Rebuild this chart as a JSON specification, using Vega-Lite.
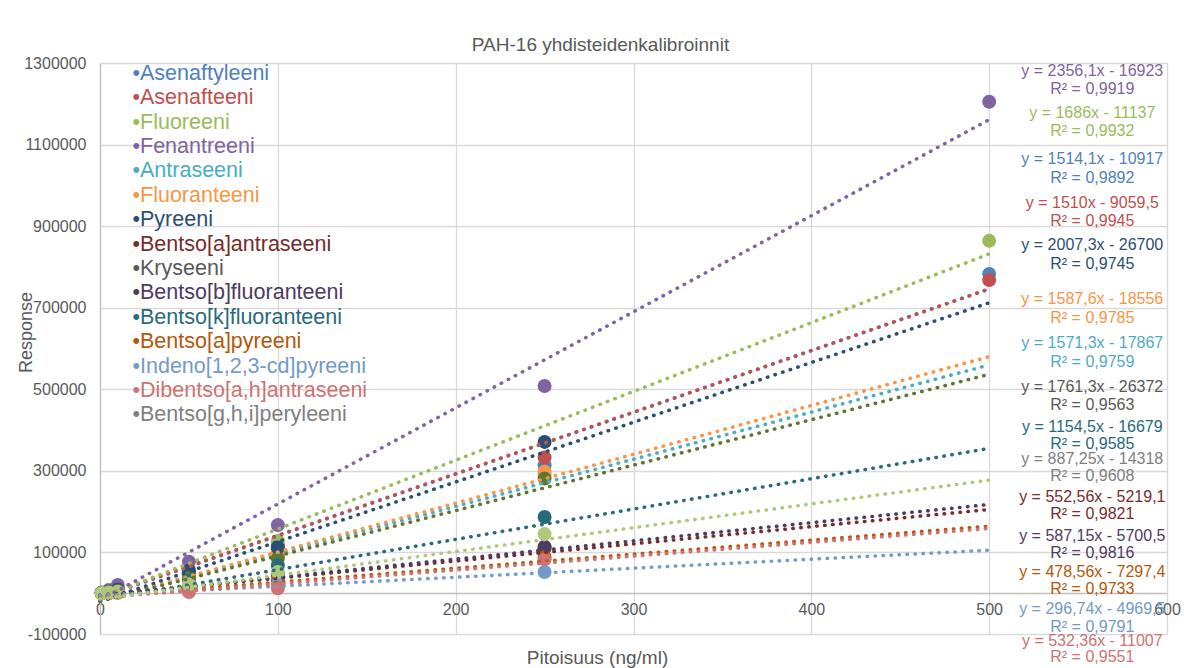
{
  "$schema": "https://vega.github.io/schema/vega-lite/v6.json",
  "autosize": {"type": "none"},
  "padding": {"left": 100, "top": 63, "right": 17, "bottom": 34},
  "width": 1067,
  "height": 571,
  "background": "white",
  "title": {"text": "PAH-16 yhdisteidenkalibroinnit", "font": "Liberation Sans", "fontSize": 19, "fontWeight": "normal", "color": "#595959", "anchor": "middle", "dx": -33, "dy": 19, "offset": 10, "baseline": "middle"},
  "config": {
    "view": {"stroke": null},
    "font": "Liberation Sans",
    "axis": {"labelFont": "Liberation Sans", "titleFont": "Liberation Sans", "labelColor": "#595959", "titleColor": "#595959", "titleFontWeight": "normal", "ticks": false, "gridColor": "#D9D9D9", "gridWidth": 1.3, "domainColor": "#BFBFBF", "domainWidth": 1.3}
  },
  "datasets": {
    "pts": [
      {"series": "Asenaftyleeni", "conc": 1, "resp": 500},
      {"series": "Asenaftyleeni", "conc": 5, "resp": 3000},
      {"series": "Asenaftyleeni", "conc": 10, "resp": 8000},
      {"series": "Asenaftyleeni", "conc": 50, "resp": 45000},
      {"series": "Asenaftyleeni", "conc": 100, "resp": 108000},
      {"series": "Asenaftyleeni", "conc": 250, "resp": 314000},
      {"series": "Asenaftyleeni", "conc": 500, "resp": 783000},
      {"series": "Asenafteeni", "conc": 1, "resp": 600},
      {"series": "Asenafteeni", "conc": 5, "resp": 3500},
      {"series": "Asenafteeni", "conc": 10, "resp": 9000},
      {"series": "Asenafteeni", "conc": 50, "resp": 50000},
      {"series": "Asenafteeni", "conc": 100, "resp": 118000},
      {"series": "Asenafteeni", "conc": 250, "resp": 333000},
      {"series": "Asenafteeni", "conc": 500, "resp": 768000},
      {"series": "Fluoreeni", "conc": 1, "resp": 1000},
      {"series": "Fluoreeni", "conc": 5, "resp": 5000},
      {"series": "Fluoreeni", "conc": 10, "resp": 12000},
      {"series": "Fluoreeni", "conc": 50, "resp": 58000},
      {"series": "Fluoreeni", "conc": 100, "resp": 128000},
      {"series": "Fluoreeni", "conc": 500, "resp": 864000},
      {"series": "Fenantreeni", "conc": 1, "resp": 1500},
      {"series": "Fenantreeni", "conc": 5, "resp": 8000},
      {"series": "Fenantreeni", "conc": 10, "resp": 20000},
      {"series": "Fenantreeni", "conc": 50, "resp": 77000},
      {"series": "Fenantreeni", "conc": 100, "resp": 167000},
      {"series": "Fenantreeni", "conc": 250, "resp": 508000},
      {"series": "Fenantreeni", "conc": 500, "resp": 1205000},
      {"series": "Antraseeni", "conc": 1, "resp": 400},
      {"series": "Antraseeni", "conc": 5, "resp": 2500},
      {"series": "Antraseeni", "conc": 10, "resp": 7000},
      {"series": "Antraseeni", "conc": 50, "resp": 40000},
      {"series": "Antraseeni", "conc": 100, "resp": 95000},
      {"series": "Antraseeni", "conc": 250, "resp": 290000},
      {"series": "Fluoranteeni", "conc": 1, "resp": 400},
      {"series": "Fluoranteeni", "conc": 5, "resp": 3000},
      {"series": "Fluoranteeni", "conc": 10, "resp": 7500},
      {"series": "Fluoranteeni", "conc": 50, "resp": 43000},
      {"series": "Fluoranteeni", "conc": 100, "resp": 100000},
      {"series": "Fluoranteeni", "conc": 250, "resp": 298000},
      {"series": "Pyreeni", "conc": 1, "resp": 500},
      {"series": "Pyreeni", "conc": 5, "resp": 3500},
      {"series": "Pyreeni", "conc": 10, "resp": 9000},
      {"series": "Pyreeni", "conc": 50, "resp": 55000},
      {"series": "Pyreeni", "conc": 100, "resp": 112000},
      {"series": "Pyreeni", "conc": 250, "resp": 371000},
      {"series": "Bentso[a]antraseeni", "conc": 1, "resp": 200},
      {"series": "Bentso[a]antraseeni", "conc": 5, "resp": 1200},
      {"series": "Bentso[a]antraseeni", "conc": 10, "resp": 3500},
      {"series": "Bentso[a]antraseeni", "conc": 50, "resp": 20000},
      {"series": "Bentso[a]antraseeni", "conc": 100, "resp": 45000},
      {"series": "Bentso[a]antraseeni", "conc": 250, "resp": 110000},
      {"series": "Kryseeni", "conc": 1, "resp": 300},
      {"series": "Kryseeni", "conc": 5, "resp": 2500},
      {"series": "Kryseeni", "conc": 10, "resp": 6000},
      {"series": "Kryseeni", "conc": 50, "resp": 38000},
      {"series": "Kryseeni", "conc": 100, "resp": 85000},
      {"series": "Kryseeni", "conc": 250, "resp": 281000},
      {"series": "Bentso[b]fluoranteeni", "conc": 1, "resp": 200},
      {"series": "Bentso[b]fluoranteeni", "conc": 5, "resp": 1300},
      {"series": "Bentso[b]fluoranteeni", "conc": 10, "resp": 3800},
      {"series": "Bentso[b]fluoranteeni", "conc": 50, "resp": 21000},
      {"series": "Bentso[b]fluoranteeni", "conc": 100, "resp": 48000},
      {"series": "Bentso[b]fluoranteeni", "conc": 250, "resp": 114000},
      {"series": "Bentso[k]fluoranteeni", "conc": 1, "resp": 300},
      {"series": "Bentso[k]fluoranteeni", "conc": 5, "resp": 2000},
      {"series": "Bentso[k]fluoranteeni", "conc": 10, "resp": 5000},
      {"series": "Bentso[k]fluoranteeni", "conc": 50, "resp": 30000},
      {"series": "Bentso[k]fluoranteeni", "conc": 100, "resp": 68000},
      {"series": "Bentso[k]fluoranteeni", "conc": 250, "resp": 187000},
      {"series": "Bentso[a]pyreeni", "conc": 1, "resp": 100},
      {"series": "Bentso[a]pyreeni", "conc": 5, "resp": 900},
      {"series": "Bentso[a]pyreeni", "conc": 10, "resp": 2500},
      {"series": "Bentso[a]pyreeni", "conc": 50, "resp": 14000},
      {"series": "Bentso[a]pyreeni", "conc": 100, "resp": 33000},
      {"series": "Bentso[a]pyreeni", "conc": 250, "resp": 89000},
      {"series": "Indeno[1,2,3-cd]pyreeni", "conc": 1, "resp": 100},
      {"series": "Indeno[1,2,3-cd]pyreeni", "conc": 5, "resp": 700},
      {"series": "Indeno[1,2,3-cd]pyreeni", "conc": 10, "resp": 1800},
      {"series": "Indeno[1,2,3-cd]pyreeni", "conc": 50, "resp": 8000},
      {"series": "Indeno[1,2,3-cd]pyreeni", "conc": 100, "resp": 22000},
      {"series": "Indeno[1,2,3-cd]pyreeni", "conc": 250, "resp": 52000},
      {"series": "Dibentso[a,h]antraseeni", "conc": 1, "resp": 0},
      {"series": "Dibentso[a,h]antraseeni", "conc": 5, "resp": 300},
      {"series": "Dibentso[a,h]antraseeni", "conc": 10, "resp": 1000},
      {"series": "Dibentso[a,h]antraseeni", "conc": 50, "resp": 3000},
      {"series": "Dibentso[a,h]antraseeni", "conc": 100, "resp": 12000},
      {"series": "Dibentso[a,h]antraseeni", "conc": 250, "resp": 83000},
      {"series": "Bentso[g,h,i]peryleeni", "conc": 1, "resp": 200},
      {"series": "Bentso[g,h,i]peryleeni", "conc": 5, "resp": 1500},
      {"series": "Bentso[g,h,i]peryleeni", "conc": 10, "resp": 3500},
      {"series": "Bentso[g,h,i]peryleeni", "conc": 50, "resp": 22000},
      {"series": "Bentso[g,h,i]peryleeni", "conc": 100, "resp": 52000},
      {"series": "Bentso[g,h,i]peryleeni", "conc": 250, "resp": 145000}
    ],
    "trend": [
      {"series": "Asenaftyleeni", "x0": 0, "y0": -10917, "x1": 500, "y1": 746133},
      {"series": "Asenafteeni", "x0": 0, "y0": -9059.5, "x1": 500, "y1": 745940},
      {"series": "Fluoreeni", "x0": 0, "y0": -11137, "x1": 500, "y1": 831863},
      {"series": "Fenantreeni", "x0": 0, "y0": -16923, "x1": 500, "y1": 1161127},
      {"series": "Antraseeni", "x0": 0, "y0": -17867, "x1": 500, "y1": 559500},
      {"series": "Fluoranteeni", "x0": 0, "y0": -18556, "x1": 500, "y1": 580000},
      {"series": "Pyreeni", "x0": 0, "y0": -20000, "x1": 500, "y1": 712000},
      {"series": "Bentso[a]antraseeni", "x0": 0, "y0": -5219, "x1": 500, "y1": 205400},
      {"series": "Kryseeni", "x0": 0, "y0": -20000, "x1": 500, "y1": 536700},
      {"series": "Bentso[b]fluoranteeni", "x0": 0, "y0": -5700, "x1": 500, "y1": 217700},
      {"series": "Bentso[k]fluoranteeni", "x0": 0, "y0": -16679, "x1": 500, "y1": 355000},
      {"series": "Bentso[a]pyreeni", "x0": 0, "y0": -7297, "x1": 500, "y1": 164400},
      {"series": "Indeno[1,2,3-cd]pyreeni", "x0": 0, "y0": -4970, "x1": 500, "y1": 105500},
      {"series": "Dibentso[a,h]antraseeni", "x0": 0, "y0": -11007, "x1": 500, "y1": 158700},
      {"series": "Bentso[g,h,i]peryleeni", "x0": 0, "y0": -14318, "x1": 500, "y1": 277300}
    ],
    "labels": [
      {"series": "Fenantreeni", "t": "y = 2356,1x - 16923", "ly": 1280300},
      {"series": "Fenantreeni", "t": "R² = 0,9919", "ly": 1236200},
      {"series": "Fluoreeni", "t": "y = 1686x - 11137", "ly": 1177400},
      {"series": "Fluoreeni", "t": "R² = 0,9932", "ly": 1133200},
      {"series": "Asenaftyleeni", "t": "y = 1514,1x - 10917", "ly": 1064600},
      {"series": "Asenaftyleeni", "t": "R² = 0,9892", "ly": 1018000},
      {"series": "Asenafteeni", "t": "y = 1510x - 9059,5", "ly": 956700},
      {"series": "Asenafteeni", "t": "R² = 0,9945", "ly": 912600},
      {"series": "Pyreeni", "t": "y = 2007,3x - 26700", "ly": 853700},
      {"series": "Pyreeni", "t": "R² = 0,9745", "ly": 807200},
      {"series": "Fluoranteeni", "t": "y = 1587,6x - 18556", "ly": 721300},
      {"series": "Fluoranteeni", "t": "R² = 0,9785", "ly": 674700},
      {"series": "Antraseeni", "t": "y = 1571,3x - 17867", "ly": 613500},
      {"series": "Antraseeni", "t": "R² = 0,9759", "ly": 566900},
      {"series": "Kryseeni", "t": "y = 1761,3x - 26372", "ly": 505600},
      {"series": "Kryseeni", "t": "R² = 0,9563", "ly": 461400},
      {"series": "Bentso[k]fluoranteeni", "t": "y = 1154,5x - 16679", "ly": 407500},
      {"series": "Bentso[k]fluoranteeni", "t": "R² = 0,9585", "ly": 365800},
      {"series": "Bentso[g,h,i]peryleeni", "t": "y = 887,25x - 14318", "ly": 329000},
      {"series": "Bentso[g,h,i]peryleeni", "t": "R² = 0,9608", "ly": 287400},
      {"series": "Bentso[a]antraseeni", "t": "y = 552,56x - 5219,1", "ly": 235900},
      {"series": "Bentso[a]antraseeni", "t": "R² = 0,9821", "ly": 194200},
      {"series": "Bentso[b]fluoranteeni", "t": "y = 587,15x - 5700,5", "ly": 140300},
      {"series": "Bentso[b]fluoranteeni", "t": "R² = 0,9816", "ly": 98600},
      {"series": "Bentso[a]pyreeni", "t": "y = 478,56x - 7297,4", "ly": 52000},
      {"series": "Bentso[a]pyreeni", "t": "R² = 0,9733", "ly": 10300},
      {"series": "Indeno[1,2,3-cd]pyreeni", "t": "y = 296,74x - 4969,5", "ly": -38800},
      {"series": "Indeno[1,2,3-cd]pyreeni", "t": "R² = 0,9791", "ly": -83000},
      {"series": "Dibentso[a,h]antraseeni", "t": "y = 532,36x - 11007", "ly": -117300},
      {"series": "Dibentso[a,h]antraseeni", "t": "R² = 0,9551", "ly": -156500}
    ]
  },
  "layer": [
    {
      "data": {"name": "pts"},
      "mark": {"type": "circle", "size": 195, "opacity": 1},
      "encoding": {
        "x": {"field": "conc", "type": "quantitative", "scale": {"domain": [0, 600], "nice": false, "zero": false},
          "axis": {"values": [0, 100, 200, 300, 400, 500, 600], "offset": -41, "grid": true, "labelFontSize": 16, "labelPadding": 8, "labelFlush": false,
            "title": "Pitoisuus (ng/ml)", "titleFontSize": 19, "titleX": 497, "titleY": 64, "titleAlign": "center", "titleBaseline": "middle", "titleAnchor": null}},
        "y": {"field": "resp", "type": "quantitative", "scale": {"domain": [-100000, 1300000], "nice": false, "zero": false},
          "axis": {"values": [-100000, 100000, 300000, 500000, 700000, 900000, 1100000, 1300000], "grid": true, "labelFontSize": 16, "labelPadding": 14, "labelExpr": "'' + datum.value", "labelFlush": false,
            "title": "Response", "titleFontSize": 18, "titleAngle": 270, "titleX": -74, "titleY": 269, "titleAlign": "center", "titleBaseline": "middle", "titleAnchor": null}},
        "color": {"field": "series", "type": "nominal",
          "scale": {"domain": ["Asenaftyleeni", "Asenafteeni", "Fluoreeni", "Fenantreeni", "Antraseeni", "Fluoranteeni", "Pyreeni", "Bentso[a]antraseeni", "Kryseeni", "Bentso[b]fluoranteeni", "Bentso[k]fluoranteeni", "Bentso[a]pyreeni", "Indeno[1,2,3-cd]pyreeni", "Dibentso[a,h]antraseeni", "Bentso[g,h,i]peryleeni"],
            "range": ["#4F81BD", "#C0504D", "#9BBB59", "#8064A2", "#4BACC6", "#F79646", "#2C4D75", "#772C2A", "#5F7530", "#4D3B62", "#276A7C", "#B65708", "#729ACA", "#CD7371", "#AFC97A"]},
          "legend": {"orient": "none", "legendX": 11, "legendY": 0, "title": null, "padding": 0, "symbolType": "circle", "symbolSize": 0, "symbolOpacity": 0, "symbolStrokeWidth": 0,
            "labelFont": "Liberation Sans", "labelFontSize": 21.5, "labelOffset": 0, "labelLimit": 500, "rowPadding": 1.4, "labelExpr": "'•' + datum.label",
            "encode": {"labels": {"update": {"fill": {"scale": "fill", "field": "value"}}}}}}
      }
    },
    {
      "data": {"name": "trend"},
      "mark": {"type": "rule", "strokeWidth": 3.5, "strokeCap": "round", "strokeDash": [0.5, 7.5]},
      "encoding": {
        "x": {"field": "x0", "type": "quantitative"},
        "y": {"field": "y0", "type": "quantitative"},
        "x2": {"field": "x1"},
        "y2": {"field": "y1"},
        "color": {"field": "series", "type": "nominal", "legend": null}
      }
    },
    {
      "data": {"name": "labels"},
      "mark": {"type": "text", "fontSize": 16, "font": "Liberation Sans", "align": "center", "baseline": "middle"},
      "encoding": {
        "x": {"datum": 558, "type": "quantitative"},
        "y": {"field": "ly", "type": "quantitative"},
        "text": {"field": "t"},
        "fill": {"field": "series", "type": "nominal", "legend": null,
          "scale": {"domain": ["Asenaftyleeni", "Asenafteeni", "Fluoreeni", "Fenantreeni", "Antraseeni", "Fluoranteeni", "Pyreeni", "Bentso[a]antraseeni", "Kryseeni", "Bentso[b]fluoranteeni", "Bentso[k]fluoranteeni", "Bentso[a]pyreeni", "Indeno[1,2,3-cd]pyreeni", "Dibentso[a,h]antraseeni", "Bentso[g,h,i]peryleeni"],
            "range": ["#4F81BD", "#C0504D", "#9BBB59", "#8064A2", "#4BACC6", "#F79646", "#2C4D75", "#772C2A", "#595959", "#4D3B62", "#276A7C", "#B65708", "#729ACA", "#CD7371", "#7F7F7F"]}}
      }
    }
  ]
}
